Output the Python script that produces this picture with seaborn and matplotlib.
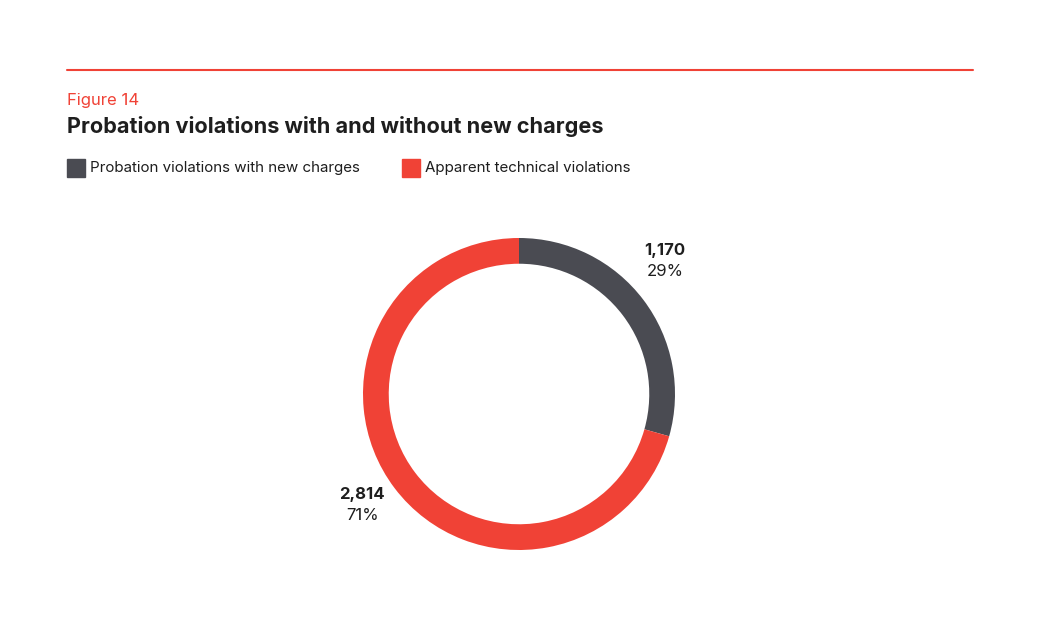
import matplotlib
matplotlib.use("Agg")
import matplotlib.pyplot as plt
from matplotlib.patches import Rectangle
import seaborn as sns

# data
categories = ['Probation violations with new charges', 'Apparent technical violations']
counts = [1170, 2814]
percent_labels = ['29%', '71%']
count_labels = ['1,170', '2,814']

DARK = '#4a4b52'
RED = '#f04236'
colors = [DARK, RED]

sns.set_theme(style='white')
plt.rcParams['font.family'] = ['Inter', 'DejaVu Sans']

fig = plt.figure(figsize=(10.38, 6.19), dpi=100)
W, H = 1038, 619

def fx(px):
    return px / W

def fy(py):
    return 1 - py / H

# header rule
fig.add_artist(plt.Line2D([fx(67), fx(973)], [fy(70), fy(70)], color=RED, lw=1.5))
fig.text(fx(67), fy(100), 'Figure 14', color=RED, fontsize=12, va='center', ha='left')
fig.text(fx(67), fy(126), 'Probation violations with and without new charges',
         color='#1e1e1e', fontsize=15.6, fontweight='bold', va='center', ha='left')

# legend
lx = [67, 402]
for x0, lab, c in zip(lx, categories, colors):
    fig.add_artist(Rectangle((fx(x0), fy(177)), fx(18), 18 / H, color=c, transform=fig.transFigure))
    fig.text(fx(x0 + 23), fy(168), lab, fontsize=10.9, color='#1e1e1e', va='center', ha='left')

# donut
cx, cy, r = 519, 394, 156
ax = fig.add_axes([fx(cx - r), fy(cy + r), 2 * r / W, 2 * r / H])
ax.pie(counts, colors=colors, startangle=90, counterclock=False, radius=1,
       wedgeprops=dict(width=0.165, edgecolor='none'))
ax.set_xlim(-1, 1)
ax.set_ylim(-1, 1)
ax.set_aspect('equal')
ax.axis('off')

label_pos = [(0.936, 0.923, 0.788), (-1.006, -0.647, -0.782)]
for (x, y1, y2), cl, pl in zip(label_pos, count_labels, percent_labels):
    ax.text(x, y1, cl, fontsize=12, fontweight='bold', color='#1e1e1e', ha='center', va='center', clip_on=False)
    ax.text(x, y2, pl, fontsize=12, color='#1e1e1e', ha='center', va='center', clip_on=False)

fig.savefig('out.png', dpi=100, facecolor='white')
